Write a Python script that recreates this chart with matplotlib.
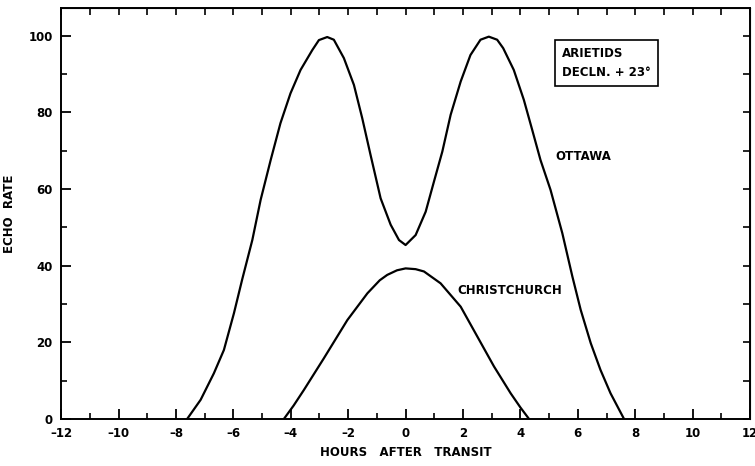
import numpy as np
import matplotlib

matplotlib.use("Agg")
import matplotlib.pyplot as plt  # noqa: E402

# Ottawa echo rate (hours after transit, rate)
ottawa_h = [-7.61, -7.14, -6.68, -6.33, -5.98, -5.69, -5.34, -5.05, -4.70,
            -4.36, -4.01, -3.66, -3.25, -3.02, -2.73, -2.50, -2.15,
            -1.80, -1.51, -1.22, -0.87, -0.52, -0.23, 0.0, 0.35, 0.70,
            0.99, 1.28, 1.57, 1.92, 2.26, 2.61, 2.90, 3.19, 3.40, 3.77,
            4.12, 4.41, 4.70, 5.05, 5.46, 5.81, 6.10, 6.45, 6.79, 7.14,
            7.61]
ottawa_rate = [0.0, 5.0, 11.9, 18.0, 27.6, 36.5, 46.7, 57.2, 67.6,
               77.2, 85.0, 91.1, 96.3, 98.9, 99.7, 99.0, 94.2,
               87.2, 78.5, 68.9, 57.6, 50.7, 46.7, 45.4, 48.0, 54.1,
               62.0, 69.8, 79.4, 88.1, 95.0, 99.0, 99.8, 99.0, 96.8, 91.1,
               83.3, 75.5, 67.6, 59.8, 48.5, 37.2, 28.5, 19.8, 12.8, 6.7,
               0.0]

# Christchurch echo rate
christ_h = [-4.24, -3.90, -3.54, -2.85, -2.03, -1.33, -0.90, -0.64, -0.30,
            0.0, 0.35, 0.64, 1.22, 1.92, 2.50, 3.08, 3.66, 4.00, 4.30]
christ_rate = [0.0, 3.5, 7.6, 15.8, 25.8, 32.8, 36.2, 37.6, 38.8,
               39.3, 39.1, 38.5, 35.4, 29.3, 21.5, 13.7, 6.7, 3.0, 0.0]

x_ticks = list(range(-12, 13, 2))
y_ticks = list(range(0, 101, 20))

font = dict(family="DejaVu Sans", weight="bold", size=8.5)

fig = plt.figure(figsize=(7.55, 4.66), dpi=100)
ax = fig.add_axes([0.081, 0.101, 0.9124, 0.882])

ax.plot(ottawa_h, ottawa_rate, color="black", lw=1.6,
        solid_joinstyle="round", solid_capstyle="round")
ax.plot(christ_h, christ_rate, color="black", lw=1.6,
        solid_joinstyle="round", solid_capstyle="round")

ax.set_xlim(-12, 12)
ax.set_ylim(0, 107.3)
ax.set_xticks(x_ticks)
ax.set_xticks(np.arange(-12, 13, 1), minor=True)
ax.set_yticks(y_ticks)
ax.set_yticks(np.arange(0, 101, 10), minor=True)
ax.set_xticklabels([str(t).replace("-", "\u2013") for t in x_ticks], **font)
ax.set_yticklabels([str(t) for t in y_ticks], **font)
ax.tick_params(which="major", direction="in", length=7, width=1.3, pad=6)
ax.tick_params(which="minor", direction="in", length=4, width=1.2)
for sp in ax.spines.values():
    sp.set_linewidth(1.4)

top = ax.secondary_xaxis("top")
top.set_xticks(np.arange(-12, 13, 1))
top.set_xticklabels([])
top.tick_params(direction="in", length=5, width=1.2)
right = ax.secondary_yaxis("right")
right.set_yticks(np.arange(0, 101, 10))
right.set_yticklabels([])
right.tick_params(direction="in", length=5, width=1.2)

ax.set_xlabel("HOURS   AFTER   TRANSIT", labelpad=4, **font)
ax.set_ylabel("ECHO  RATE", labelpad=2, **font)
ax.yaxis.set_label_coords(-0.065, 0.5)

ax.text(5.45, 97.0, "ARIETIDS\nDECLN. + 23\u00b0", ha="left", va="top",
        linespacing=1.6, **font,
        bbox=dict(boxstyle="square,pad=0.6", fc="white", ec="black", lw=1.2))
ax.text(6.2, 68.4, "OTTAWA", ha="center", va="center", **font)
ax.text(3.62, 33.4, "CHRISTCHURCH", ha="center", va="center", **font)

fig.savefig("out.png", dpi=100)
